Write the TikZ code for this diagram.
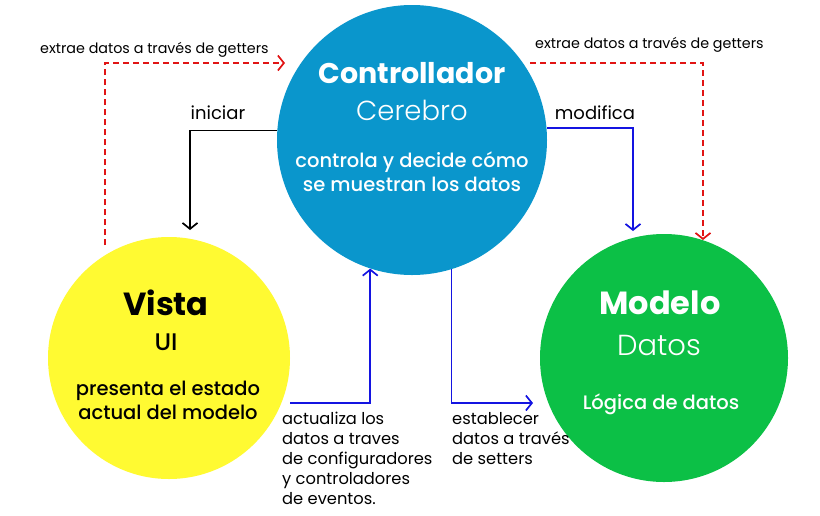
\documentclass[tikz,border=0pt]{standalone}
\usepackage{fontspec}
\setmainfont{Poppins}
\newfontfamily\lightfont{Poppins Light}
\newfontfamily\mediumfont{Poppins Medium}
\usepackage{tikz}
\usetikzlibrary{arrows.meta}
\usetikzlibrary{positioning}
\definecolor{ctrlblue}{RGB}{10,150,204}
\definecolor{vistayellow}{RGB}{255,250,50}
\definecolor{modelgreen}{RGB}{12,192,70}
\definecolor{arrowblue}{RGB}{20,20,225}
\definecolor{arrowred}{RGB}{225,20,20}
\tikzset{ball/.style={circle,draw=none,inner sep=0pt}}
\tikzset{title/.style={font=\bfseries\fontsize{32}{36}\selectfont}}
\tikzset{sub/.style={font=\lightfont\fontsize{29}{32}\selectfont}}
\tikzset{desc/.style={font=\mediumfont\fontsize{19.5}{24}\selectfont,align=center}}
\tikzset{lbl/.style={font=\fontsize{16.3}{20}\selectfont,align=left,inner sep=0pt}}
\tikzset{small/.style={font=\fontsize{14.3}{16}\selectfont,inner sep=0pt}}
\tikzset{flow/.style={line width=1.7pt,-{Straight Barb[length=6pt,width=15pt]}}}

\begin{document}
\begin{tikzpicture}[x=1pt,y=-1pt]
\useasboundingbox (0,0) rectangle (820,515);
\fill[white] (0,0) rectangle (820,515);
\node[ball, fill=ctrlblue, minimum size=270pt] (ctrl) at (412,140) {};
\node[ball, fill=vistayellow, minimum size=242pt] (vista) at (169,358) {};
\node[ball, fill=modelgreen, minimum size=248pt] (modelo) at (664,358) {};

\node[title, white, font=\bfseries\fontsize{28.5}{32}\selectfont] (ctrlT) at (412,73) {Controllador};
\node[sub, white, font=\lightfont\fontsize{27.5}{32}\selectfont] (ctrlS) at (412,110) {Cerebro};
\node[desc, white] (ctrlD) at (412,172) {controla y decide cómo\\se muestran los datos};

\node[title] (vistaT) at (166,303) {Vista};
\node[font=\mediumfont\fontsize{24}{28}\selectfont] (vistaS) at (166,342) {UI};
\node[desc] (vistaD) at (168,400) {presenta el estado\\actual del modelo};

\node[title, white] (modeloT) at (660,303) {Modelo};
\node[sub, white] (modeloS) at (659,345) {Datos};
\node[desc, white] (modeloD) at (661,404) {Lógica de datos};

\coordinate (getL) at (105,245);
\coordinate (getLend) at (285,63);
\coordinate (getR) at (530,63);
\coordinate (getRend) at (703,240);
\coordinate (iniEnd) at (190,230);
\coordinate (modEnd) at (633,231);
\coordinate (actStart) at (290,403);
\coordinate (setEnd) at (533,403);

\draw[flow, arrowred, dashed, dash pattern=on 6pt off 4pt] (getL) |- (getLend);
\draw[flow, arrowred, dashed, dash pattern=on 6pt off 4pt] (getR) -| (getRend);
\draw[flow, black] (ctrl.176) -| (iniEnd);
\draw[flow, arrowblue] (ctrl.5.5) -| (modEnd);
\draw[flow, arrowblue] (actStart) -| (ctrl.252);
\draw[flow, arrowblue] (ctrl.287.5) |- (setEnd);

\node[small, anchor=west] (getLlbl) at (40,50) {extrae datos a través de getters};
\node[small, anchor=west] (getRlbl) at (535,45) {extrae datos a través de getters};
\node[lbl, font=\fontsize{18}{20}\selectfont] (iniLbl) at (218,113) {iniciar};
\node[lbl, font=\fontsize{18}{20}\selectfont] (modLbl) at (595,113) {modifica};
\node[lbl, anchor=north west] (actLbl) at (282,412) {actualiza los\\datos a traves\\de configuradores\\y controladores\\de eventos.};
\node[lbl, anchor=north west] (setLbl) at (452,412) {establecer\\datos a través\\de setters};
\end{tikzpicture}
\end{document}
